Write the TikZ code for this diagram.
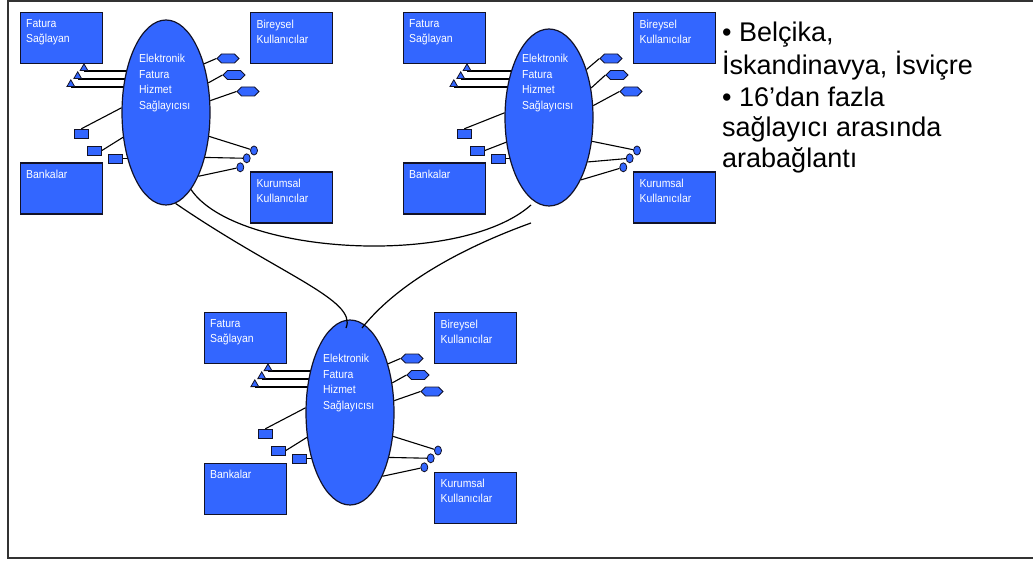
\documentclass[tikz,border=0pt]{standalone}
\usepackage{fontspec}
\setmainfont{Liberation Sans}
\newfontfamily\labelfont[FakeStretch=0.9]{Liberation Sans}
\usetikzlibrary{shapes.geometric,shapes.symbols}
\pgfdeclarelayer{wires}
\pgfsetlayers{wires,main}
\definecolor{ebfblue}{RGB}{51,102,255}
\definecolor{ebfedge}{RGB}{18,18,40}

\tikzset{
  bluebox/.style={rectangle, draw=ebfedge, line width=1.2pt, fill=ebfblue,
    minimum width=82pt, minimum height=51pt, inner sep=0pt, anchor=north west},
  boxtext/.style={font=\labelfont\fontsize{11.6}{15}\selectfont, text=white,
    align=left, inner sep=0pt, anchor=north west},
  hub/.style={ellipse, draw=ebfedge, line width=1.2pt, fill=ebfblue,
    minimum width=88pt, inner sep=0pt},
  hubtext/.style={font=\labelfont\fontsize{11.6}{15.5}\selectfont, text=white,
    align=left, inner sep=0pt, anchor=north west},
  tri/.style={regular polygon, regular polygon sides=3, minimum size=9pt,
    inner sep=0pt, draw=ebfedge, line width=0.8pt, fill=ebfblue, anchor=south},
  sq/.style={rectangle, minimum width=14pt, minimum height=9pt, inner sep=0pt,
    draw=ebfedge, line width=0.8pt, fill=ebfblue},
  hexa/.style={signal, signal to=east and west, minimum width=22pt,
    minimum height=9pt, inner sep=0pt, draw=ebfedge, line width=0.8pt, fill=ebfblue},
  dot/.style={ellipse, minimum width=7pt, minimum height=9pt, inner sep=0pt,
    draw=ebfedge, line width=0.8pt, fill=ebfblue},
  wire/.style={draw=black, line width=1.1pt},
  link/.style={draw=black, line width=1.2pt},
  sidetext/.style={font=\fontsize{27}{32}\selectfont, text=black,
    inner sep=0pt, anchor=base west},
}

% One provider cluster: #1 name prefix, #2/#3 offset, #4 hub centre y, #5 hub height
\newcommand\ebfcluster[5]{%
\begin{scope}[shift={(#2,#3)}]
  \node[bluebox] (#1fs) at (19.5,12) {};
  \node[boxtext] (#1fst) at (26,19.8) {Fatura\\Sağlayan};
  \node[bluebox] (#1bk) at (19.5,162.5) {};
  \node[boxtext] (#1bkt) at (26,170.3) {Bankalar};
  \node[bluebox] (#1bu) at (250,12) {};
  \node[boxtext] (#1but) at (256.5,19.8) {Bireysel\\Kullanıcılar};
  \node[bluebox] (#1ku) at (250,171.5) {};
  \node[boxtext] (#1kut) at (256.5,179.3) {Kurumsal\\Kullanıcılar};
  \node[hub, minimum height=#5pt] (#1e) at (166,#4) {};
  \node[hubtext] (#1et) at (139,54) {Elektronik\\Fatura\\Hizmet\\Sağlayıcısı};
  \node[tri] (#1t1) at (84,71) {};
  \node[tri] (#1t2) at (77.7,79) {};
  \node[tri] (#1t3) at (70.8,87) {};
  \node[sq] (#1r1) at (81.3,133.7) {};
  \node[sq] (#1r2) at (94.5,150.5) {};
  \node[sq] (#1r3) at (115,158.8) {};
  \node[hexa] (#1h1) at (228,58.5) {};
  \node[hexa] (#1h2) at (234,75) {};
  \node[hexa] (#1h3) at (248,91.5) {};
  \node[dot] (#1c1) at (254,150.5) {};
  \node[dot] (#1c2) at (246.7,158.3) {};
  \node[dot] (#1c3) at (240.3,167.3) {};
  \begin{pgfonlayer}{wires}
    \draw[wire] (#1t1.south) -- (#1t1.south -| #1e.center);
    \draw[wire] (#1t2.south) -- (#1t2.south -| #1e.center);
    \draw[wire] (#1t3.south) -- (#1t3.south -| #1e.center);
    \draw[wire] (#1r1.north) -- (#1e.174);
    \draw[wire] (#1r2.east) -- (#1e.210);
    \draw[wire] (#1r3.east) -- (#1r3.east -| #1e.center);
    \draw[wire] (#1h1.west) -- (#1e.52);
    \draw[wire] (#1h2.west) -- (#1e.35);
    \draw[wire] (#1h3.west) -- (#1e.15);
    \draw[wire] (#1e.331) -- (#1c1);
    \draw[wire] (#1e.311) -- (#1c2);
    \draw[wire] (#1e.297) -- (#1c3);
  \end{pgfonlayer}
\end{scope}}

\begin{document}
\begin{tikzpicture}[x=1pt,y=-1pt]
\useasboundingbox (0,0) rectangle (1033,561);
% slide frame
\draw[line width=1.6pt, black!80] (1040,1) -- (8,1) -- (8,558) -- (1040,558);

\ebfcluster{a}{0}{0}{112.5}{185}
\ebfcluster{b}{383}{0}{117.5}{177}
\ebfcluster{c}{184}{300}{112.5}{185}

% interconnections between the providers
\coordinate (aEnd) at (531,205);
\coordinate (cStart) at (531,223);
\coordinate (bHook) at (346,328);
\coordinate (cEnd) at (362,328);
\draw[link] (ae.288) .. controls (235,255) and (460,268) .. (aEnd);
\draw[link] (ae.276) .. controls (280,275) and (358,300) .. (bHook);
\draw[link] (cStart) .. controls (470,245) and (400,280) .. (cEnd);

% notes
\node[sidetext] (n1) at (722,42) {• Belçika,};
\node[sidetext] (n2) at (722,75) {İskandinavya, İsviçre};
\node[sidetext] (n3) at (722,107) {• 16’dan fazla};
\node[sidetext] (n4) at (722,137) {sağlayıcı arasında};
\node[sidetext] (n5) at (722,168) {arabağlantı};
\end{tikzpicture}
\end{document}
